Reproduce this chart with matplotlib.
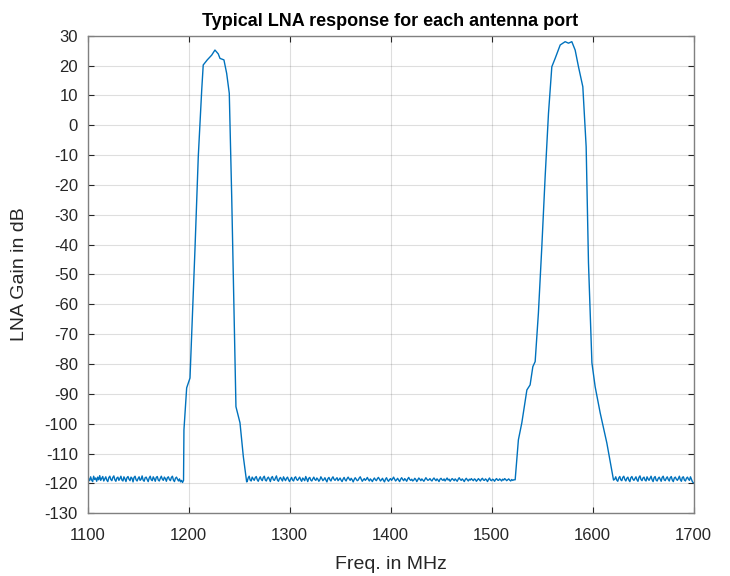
import numpy as np
import matplotlib.pyplot as plt

plt.rcParams['font.family'] = ['Liberation Sans', 'DejaVu Sans']
plt.rcParams['axes.unicode_minus'] = False

# noise floor segments (gain in dB, ~1 MHz samples)
floor_a_gain = [
    -119.6, -118.4, -119.1, -117.8, -118.9, -119.4, -117.6, -118.7, -118.2, -119.3,
    -117.9, -118.8, -117.4, -119.0, -118.3, -117.7, -119.2, -118.5, -117.8, -118.9,
    -119.4, -118.1, -117.6, -118.7, -119.1, -118.0, -117.5, -118.8, -119.3, -118.2,
    -117.9, -119.0, -118.4, -117.6, -118.9, -119.2, -117.8, -118.5, -119.4, -118.1,
    -117.7, -118.6, -119.1, -117.9, -118.3, -119.5, -118.0, -117.6, -118.8, -119.2,
    -118.4, -117.8, -119.0, -118.6, -117.5, -118.9, -119.3, -118.1, -117.9, -118.7,
    -119.4, -118.2, -117.6, -118.8, -119.1, -117.8, -118.5, -119.3, -118.0, -117.7,
    -118.9, -119.2, -118.3, -117.6, -118.6, -119.0, -117.9, -118.4, -119.3, -118.1,
    -117.8, -118.7, -119.1, -118.0, -117.6, -118.9, -119.4, -118.3, -117.9, -118.6,
    -119.2, -118.5, -119.5, -119.0, -119.7]
floor_b_gain = [
    -119.4, -118.2, -117.6, -118.9, -119.2, -117.9, -118.5, -119.0, -118.1, -117.7,
    -118.8, -119.3, -118.4, -117.8, -118.7, -119.1, -118.0, -117.6, -118.9, -119.2,
    -118.3, -117.9, -118.6, -119.4, -118.1, -117.7, -118.8, -119.0, -118.2, -117.5,
    -118.9, -119.3, -118.4, -118.0, -118.7, -119.2, -117.8, -118.5, -119.1, -118.3,
    -117.9, -118.8, -119.4, -118.6, -118.0, -118.9, -119.2, -118.1, -117.8, -118.7,
    -119.0, -118.4, -117.9, -118.8, -119.3, -118.2, -118.6, -119.1, -117.7, -118.5,
    -119.4, -118.3, -118.0, -118.9, -119.2, -118.5, -117.9, -118.7, -119.0, -118.2,
    -118.6, -119.3, -118.8, -117.8, -118.4, -119.1, -118.7, -118.1, -118.9, -119.5,
    -118.4, -118.0, -118.8, -119.2, -118.3, -117.8, -118.6, -119.0, -118.5, -118.1,
    -119.1, -118.7, -118.2, -118.9, -119.4, -118.6, -118.0, -118.8, -119.2, -118.4,
    -117.9, -118.5, -119.0, -118.3, -118.8, -119.5, -118.7, -118.1, -118.6, -119.1,
    -118.9, -118.2, -117.8, -118.6, -119.3, -118.8, -118.4, -119.0, -118.6, -118.0,
    -118.7, -119.2, -118.5, -118.9, -119.4, -118.7, -118.2, -118.8, -119.1, -118.4,
    -118.0, -118.6, -119.2, -118.8, -118.3, -119.0, -119.5, -118.6, -118.1, -118.9,
    -119.3, -118.7, -118.4, -119.0, -118.5, -117.9, -118.6, -119.2, -118.8, -118.3,
    -118.9, -119.4, -118.6, -118.1, -118.7, -119.1, -118.4, -118.8, -119.3, -118.5,
    -118.0, -118.7, -119.0, -118.6, -119.2, -118.9, -118.3, -118.7, -119.4, -118.8,
    -118.2, -118.6, -119.1, -118.5, -118.9, -119.3, -118.7, -118.1, -118.6, -119.0,
    -118.8, -118.4, -118.9, -119.2, -118.6, -118.2, -118.7, -119.1, -118.5, -118.9,
    -119.4, -118.6, -118.3, -118.8, -119.0, -118.5, -119.2, -118.7, -118.2, -118.9,
    -118.6, -119.3, -118.8, -118.4, -118.7, -119.1, -118.5, -118.9, -119.3, -118.6,
    -118.1, -118.7, -119.0, -118.5, -118.9, -119.4, -118.7, -118.3, -118.8, -119.2,
    -118.6, -118.9, -118.4, -118.8, -119.1, -118.5, -118.7, -119.3, -118.9, -118.4,
    -118.8, -119.2, -118.6, -118.3, -118.9, -119.0, -118.5, -118.8, -119.4, -118.7,
    -118.2, -118.9, -119.1, -118.6, -118.8, -119.3, -118.7, -118.4, -118.9, -119.0,
    -118.5, -118.8, -119.2, -118.6, -118.9, -118.4, -118.7, -119.1, -118.8, -118.5,
    -118.9, -119.2, -118.7, -119.0, -118.8]
floor_c_gain = [
    -118.6, -117.8, -118.9, -119.3, -118.2, -117.7, -118.8, -119.1, -118.0, -117.6,
    -118.7, -119.2, -118.3, -117.9, -118.9, -119.4, -118.1, -117.7, -118.6, -119.0,
    -118.4, -117.8, -118.8, -119.3, -118.0, -117.5, -118.7, -119.1, -118.2, -117.9,
    -118.9, -119.2, -117.8, -118.5, -119.0, -118.3, -117.6, -118.8, -119.4, -118.1,
    -117.7, -118.9, -119.2, -118.4, -117.9, -118.6, -119.3, -118.0, -117.6, -118.8,
    -119.1, -118.3, -117.8, -118.7, -119.2, -118.1, -117.7, -118.9, -119.4, -118.2,
    -117.9, -118.6, -119.0, -118.4, -117.6, -118.8, -119.3, -118.0, -117.8, -118.9,
    -119.2, -118.3, -117.9, -118.6, -119.0, -117.8, -118.7, -119.5, -119.8]

# passband 1 (L2)
peak1_freq = [1195.0, 1195.4, 1198.1, 1201.4, 1203.0, 1206.3, 1209.6, 1213.0, 1214.5, 1218.5,
              1222.9, 1226.1, 1229.4, 1231.1, 1235.0, 1237.7, 1240.3, 1242.7, 1245.0, 1246.9,
              1250.9, 1254.2, 1257.5]
peak1_gain = [-119.0, -102.1, -88.0, -84.7, -70.8, -41.8, -10.5, 11.8, 20.2, 21.9,
              23.5, 25.2, 23.9, 22.4, 21.9, 17.4, 10.7, -23.9, -62.9, -94.3,
              -99.7, -111.0, -119.5]

# passband 2 (L1)
peak2_freq = [1523.4, 1526.6, 1530.0, 1535.0, 1538.2, 1540.9, 1543.2, 1546.4, 1549.8, 1553.1,
              1556.4, 1559.7, 1563.0, 1568.0, 1572.9, 1576.2, 1579.5, 1582.8, 1586.1, 1590.4,
              1593.7, 1596.0, 1599.4, 1602.6, 1607.6, 1614.2, 1620.8]
peak2_gain = [-118.8, -105.4, -99.7, -88.7, -87.0, -80.9, -79.2, -63.0, -40.7, -17.2,
              4.0, 19.6, 22.4, 26.9, 28.0, 27.5, 28.0, 25.2, 19.6, 12.9,
              -7.2, -46.1, -79.6, -87.6, -96.4, -106.5, -118.9]

floor_a_freq = np.linspace(1100, 1194, len(floor_a_gain))
floor_b_freq = np.linspace(1258, 1522, len(floor_b_gain))
floor_c_freq = np.linspace(1622, 1700, len(floor_c_gain))

freq = np.concatenate([floor_a_freq, peak1_freq, floor_b_freq, peak2_freq, floor_c_freq])
gain = np.concatenate([floor_a_gain, peak1_gain, floor_b_gain, peak2_gain, floor_c_gain])

fig = plt.figure(figsize=(7.3, 5.76), dpi=100)
ax = fig.add_axes([0.120, 0.109, 0.830, 0.829])

ax.plot(freq, gain, color=(0, 0.447, 0.741), linewidth=1.0)

ax.set_xlim(1100, 1700)
ax.set_ylim(-130, 30)
ax.set_xticks(np.arange(1100, 1701, 100))
ax.set_yticks(np.arange(-130, 31, 10))

grey = (0.15, 0.15, 0.15)
ax.grid(True, color=(0.15, 0.15, 0.15), alpha=0.15, linewidth=0.8)
ax.tick_params(direction='in', top=True, right=True, colors=grey, labelsize=12, length=4)
ax.tick_params(axis='y', pad=7)
ax.tick_params(axis='x', pad=11)
for s in ax.spines.values():
    s.set_color((0.5, 0.5, 0.5))
    s.set_linewidth(1.0)

ax.set_xlabel('Freq. in MHz', fontsize=14, color=grey, labelpad=9)
ax.set_ylabel('LNA Gain in dB', fontsize=14, color=grey, labelpad=12)
ax.set_title('Typical LNA response for each antenna port', fontsize=13, fontweight='bold', color='black', pad=7)

fig.savefig('out.png', dpi=100)
